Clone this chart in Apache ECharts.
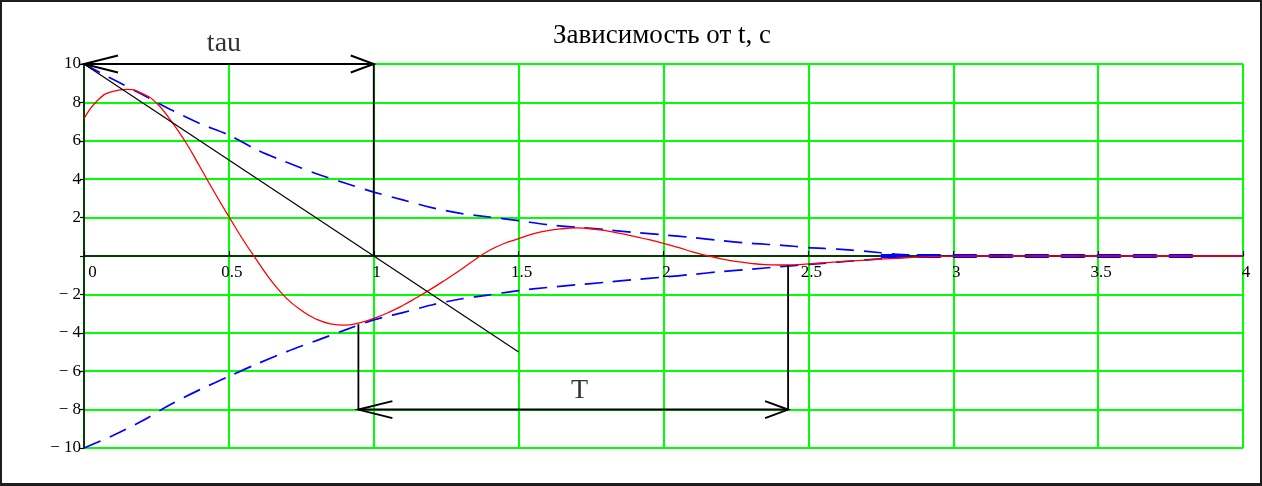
<!DOCTYPE html>
<html>
<head>
<meta charset="utf-8">
<script src="https://cdn.jsdelivr.net/npm/echarts@6/dist/echarts.min.js"></script>
<style>
html,body{margin:0;padding:0;background:#fff;}
#wrap{position:relative;width:1262px;height:486px;}
#c{position:absolute;left:0;top:0;width:1262px;height:486px;}
#frame{position:absolute;left:0;top:0;width:1262px;height:486px;box-sizing:border-box;border:2px solid #1e1e1e;border-bottom-width:3px;pointer-events:none;}
</style>
</head>
<body>
<div id="wrap"><div id="c"></div><div id="frame"></div></div>
<script>
// ---- data ----
const titleText = 'Зависимость от t, c';

// red oscillating curve
const redT = [0, 0.05, 0.1, 0.15, 0.2, 0.25, 0.3, 0.35, 0.4, 0.45, 0.5, 0.55, 0.6, 0.65, 0.7, 0.75, 0.8, 0.85, 0.9, 0.95, 1.0, 1.05, 1.1, 1.15, 1.2, 1.25, 1.3, 1.35, 1.4, 1.45, 1.5, 1.55, 1.6, 1.65, 1.7, 1.75, 1.8, 1.85, 1.9, 1.95, 2.0, 2.05, 2.1, 2.15, 2.2, 2.25, 2.3, 2.35, 2.4, 2.45, 2.5, 2.6, 2.7, 2.8, 2.9, 3.0, 3.2, 3.6, 4.0];
const redV = [7.15, 8.15, 8.58, 8.68, 8.47, 7.97, 7.05, 5.95, 4.65, 3.32, 2.05, 0.82, -0.3, -1.36, -2.22, -2.83, -3.28, -3.53, -3.6, -3.48, -3.25, -2.95, -2.58, -2.15, -1.7, -1.22, -0.72, -0.18, 0.3, 0.65, 0.9, 1.15, 1.32, 1.42, 1.46, 1.42, 1.32, 1.18, 1.02, 0.85, 0.66, 0.45, 0.22, 0.02, -0.15, -0.28, -0.38, -0.45, -0.47, -0.46, -0.41, -0.31, -0.21, -0.12, -0.05, -0.01, 0, 0, 0];

// blue dashed envelopes
const envT = [0, 0.1, 0.2, 0.3, 0.4, 0.5, 0.6, 0.7, 0.8, 0.9, 1.0, 1.1, 1.2, 1.3, 1.4, 1.5, 1.6, 1.7, 1.8, 1.9, 2.0, 2.1, 2.2, 2.3, 2.4, 2.5, 2.6, 2.7, 2.8, 2.9, 3.0, 3.5, 4.0];
const upperV = [10, 9.2, 8.42, 7.62, 6.9, 6.3, 5.5, 4.88, 4.3, 3.8, 3.33, 2.92, 2.52, 2.22, 2.03, 1.84, 1.63, 1.5, 1.37, 1.23, 1.1, 0.96, 0.8, 0.66, 0.57, 0.44, 0.36, 0.24, 0.1, 0.02, 0, 0, 0];
const lowerV = [-10, -9.35, -8.6, -7.72, -6.96, -6.27, -5.6, -4.98, -4.42, -3.86, -3.33, -2.95, -2.55, -2.24, -2.02, -1.8, -1.64, -1.5, -1.37, -1.23, -1.1, -0.96, -0.81, -0.69, -0.56, -0.44, -0.32, -0.2, -0.09, -0.02, 0, 0, 0];

// overlapping traces lying on the zero line (thick dashes seen near the axis)
const flatBlueT = [2.75, 3.85];
const flatBlackT = [3.1, 3.62];

// thin black segments [t1, v1, t2, v2]
const tangentSeg = [[0, 10, 1.5, -5]];
const verticalSegs = [[1, 10, 1, 0], [0.947, -3.55, 0.947, -8], [2.43, -0.47, 2.43, -8]];

// double-headed arrows [tStart, tEnd, level]
const arrows = [[0, 1, 10], [0.947, 2.43, -8]];

// annotation texts [t, v, text]
const notes = [[0.483, 11.06, 'tau'], [1.71, -7.02, 'T']];

// axis settings
const xMin = 0, xMax = 4, xStep = 0.5;
const yMin = -10, yMax = 10, yStep = 2;

// ---- chart ----
const SERIF = '"Liberation Serif", "Times New Roman", serif';
const zip = (a, b) => a.map((t, i) => [t, b[i]]);

const chart = echarts.init(document.getElementById('c'), null, {renderer: 'canvas'});

const gridTop = 64, gridBottom = 38, plotH = 486 - gridTop - gridBottom;
// distance from the bottom edge of the plot to the zero line
const zeroOffset = plotH * (0 - yMin) / (yMax - yMin);

function segRender(width) {
  return function (params, api) {
    const p1 = api.coord([api.value(0), api.value(1)]);
    const p2 = api.coord([api.value(2), api.value(3)]);
    return {type: 'line', shape: {x1: p1[0], y1: p1[1], x2: p2[0], y2: p2[1]},
      style: {stroke: '#000', lineWidth: width}};
  };
}

function arrowRender(params, api) {
  const a = api.coord([api.value(0), api.value(2)]);
  const b = api.coord([api.value(1), api.value(2)]);
  const L1 = 34, L2 = 23, s = 8.5;
  const st = {stroke: '#000', lineWidth: 2, fill: null};
  return {type: 'group', children: [
    {type: 'line', shape: {x1: a[0], y1: a[1], x2: b[0], y2: b[1]}, style: st},
    {type: 'polyline', shape: {points: [[a[0] + L1, a[1] - s], [a[0], a[1]], [a[0] + L1, a[1] + s]]}, style: st},
    {type: 'polyline', shape: {points: [[b[0] - L2, b[1] - s], [b[0], b[1]], [b[0] - L2, b[1] + s]]}, style: st}
  ]};
}

const option = {
  animation: false,
  backgroundColor: '#fff',
  graphic: [{
    type: 'text', x: 662, y: 35.5,
    style: {text: titleText, font: '27px ' + SERIF, fill: '#000', align: 'center', verticalAlign: 'middle'}
  }],
  grid: {left: 84, right: 19, top: gridTop, bottom: gridBottom, containLabel: false},
  xAxis: [{
    type: 'value', min: xMin, max: xMax, interval: xStep,
    axisLine: {show: false},
    axisTick: {show: false},
    axisLabel: {show: false},
    splitLine: {show: true, lineStyle: {color: '#00ff00', width: 2}}
  }, {
    type: 'value', min: xMin, max: xMax, interval: xStep, position: 'bottom',
    offset: -zeroOffset,
    axisLine: {show: true, onZero: false, lineStyle: {color: '#000', width: 1.5}},
    axisTick: {show: true, inside: true, length: 5, lineStyle: {color: '#000', width: 1.2}},
    splitLine: {show: false},
    axisLabel: {
      margin: 8,
      formatter: v => v === 0 ? '{z|0}' : '{n|' + v + '}',
      rich: {
        z: {fontFamily: SERIF, fontSize: 17, color: '#000', padding: [0, 0, 0, 17]},
        n: {fontFamily: SERIF, fontSize: 17, color: '#000', padding: [0, 0, 0, 6]}
      }
    }
  }],
  yAxis: {
    type: 'value', min: yMin, max: yMax, interval: yStep,
    axisLine: {show: true, onZero: false, lineStyle: {color: '#000', width: 1.5}},
    axisTick: {show: true, length: 4, lineStyle: {color: '#000', width: 1.2}},
    splitLine: {show: true, lineStyle: {color: '#00ff00', width: 2}},
    axisLabel: {
      margin: 3, fontFamily: SERIF, fontSize: 17, color: '#000',
      formatter: v => v === 0 ? '' : (v < 0 ? '\u2212 ' + (-v) : String(v))
    }
  },
  series: [
    {type: 'line', data: flatBlueT.map(t => [t, 0]), showSymbol: false,
      lineStyle: {color: '#0000ff', width: 4, type: [24, 12]}, z: 2},
    {type: 'line', data: flatBlackT.map(t => [t, 0]), showSymbol: false,
      lineStyle: {color: '#000', width: 2, type: [24, 8]}, z: 2},
    {type: 'line', data: zip(envT, upperV), showSymbol: false, smooth: 0.3,
      lineStyle: {color: '#0000ff', width: 1.7, type: [18, 10]}, z: 3},
    {type: 'line', data: zip(envT, lowerV), showSymbol: false, smooth: 0.3,
      lineStyle: {color: '#0000ff', width: 1.7, type: [18, 10]}, z: 3},
    {type: 'line', data: zip(redT, redV), showSymbol: false, smooth: 0.5,
      lineStyle: {color: '#ff0000', width: 1.3}, z: 4},
    {type: 'custom', data: tangentSeg, renderItem: segRender(1.2), encode: {x: [0, 2], y: [1, 3]}, clip: false, z: 5},
    {type: 'custom', data: verticalSegs, renderItem: segRender(1.8), encode: {x: [0, 2], y: [1, 3]}, clip: false, z: 5},
    {type: 'custom', data: arrows, renderItem: arrowRender, encode: {x: [0, 1], y: 2}, clip: false, z: 6},
    {type: 'scatter', data: notes.map(n => ({value: [n[0], n[1]], name: n[2]})),
      symbolSize: 1, itemStyle: {color: 'rgba(0,0,0,0)'}, clip: false, z: 7,
      label: {show: true, position: 'inside', formatter: '{b}', fontFamily: SERIF, fontSize: 28, color: '#000'}}
  ]
};
chart.setOption(option);
</script>
</body>
</html>
